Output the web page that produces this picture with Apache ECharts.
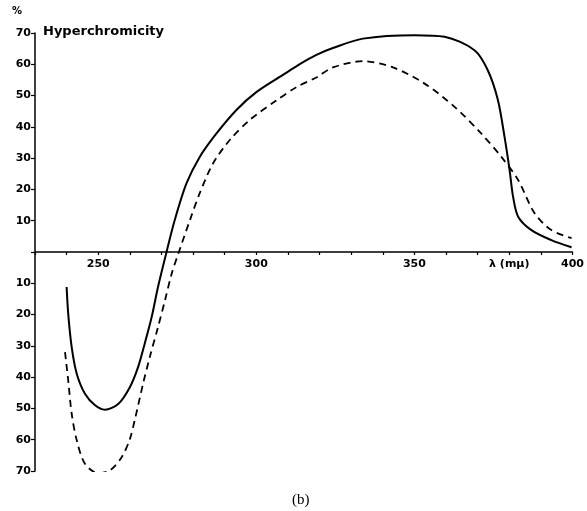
<!DOCTYPE html>
<html>
<head>
<meta charset="utf-8">
<script src="https://cdn.jsdelivr.net/npm/echarts@6/dist/echarts.min.js"></script>
<style>html,body{margin:0;padding:0;background:#fff}#c{width:587px;height:511px}</style>
</head>
<body>
<div id="c"></div>
<script>
// wavelength (mμ) and hyperchromicity (%)
const solidX = [240,240.5,241.6,243.2,245.8,249,252.1,256.3,260,262.6,264.7,266.9,268.9,271.6,274.2,277.9,282.1,287.4,293.7,300,308.4,314,319,324.2,333.7,350,359.5,369,373.2,376.4,378.5,380.1,381.2,382.8,387,393.3,399.7];
const solidY = [-11.2,-19.7,-30.4,-38.9,-45.3,-49,-50.4,-48.6,-43.2,-36.8,-29.3,-20.8,-11.2,0,10.2,21.9,30.4,37.9,45.4,51.1,56.6,60.2,63,65.2,68.2,69.3,68.8,64.5,58.1,48.6,36.8,26.2,17.7,11.3,7,3.8,1.5];
const dashX = [239.5,240.5,241.6,243.2,245.8,250,253.7,257.4,260,261.6,264.2,266.3,268.9,271.1,273.2,275.3,279,282.1,286.3,291.6,297.9,306.3,312.7,319,324.2,333.7,343.2,353.1,362.7,371.1,377.5,382.8,388,393.3,399.7];
const dashY = [-32,-41,-51.7,-60.2,-67.7,-70.7,-69.8,-65.6,-59.8,-53.5,-42,-33.6,-24,-15.5,-7,-0.6,10.2,18.8,28.3,35.8,42.2,48.4,52.7,55.8,59,61,59,53.9,46.4,37.9,30.4,23,12.4,7,4.4];
const xLabels = {250:'250',300:'300',350:'350',380:'λ (mμ)',400:'400'};
const yTicks = [-70,-60,-50,-40,-30,-20,-10,0,10,20,30,40,50,60,70];

const gridTop = 33, gridBottom = 40, H = 511;
const plotH = H - gridTop - gridBottom;
const zeroOffset = -plotH * (0 - yTicks[0]) / (yTicks[yTicks.length-1] - yTicks[0]);

const chart = echarts.init(document.getElementById('c'));
const font = 'DejaVu Sans';
chart.setOption({
  animation:false,
  grid:{left:35,right:14,top:gridTop,bottom:gridBottom},
  xAxis:{type:'value',min:230,max:400,interval:10,position:'bottom',offset:zeroOffset,
    axisLine:{onZero:false,lineStyle:{color:'#000',width:1.5}},
    axisTick:{show:true,length:3,lineStyle:{color:'#000',width:1.2}},
    splitLine:{show:false},
    axisLabel:{interval:0,hideOverlap:false,margin:7,color:'#000',fontFamily:font,fontWeight:'bold',fontSize:11,
      formatter:v=>xLabels[v]||''}},
  yAxis:{type:'value',min:yTicks[0],max:yTicks[yTicks.length-1],interval:10,
    axisLine:{show:true,onZero:false,lineStyle:{color:'#000',width:1.5}},
    axisTick:{show:true,length:4,lineStyle:{color:'#000',width:1.2}},
    splitLine:{show:false},
    axisLabel:{margin:4,color:'#000',fontFamily:font,fontWeight:'bold',fontSize:11,
      formatter:v=>v===0?'':String(Math.abs(v))}},
  series:[
    {type:'line',data:solidX.map((x,i)=>[x,solidY[i]]),smooth:0.3,symbol:'none',
      lineStyle:{color:'#000',width:2}},
    {type:'line',data:dashX.map((x,i)=>[x,dashY[i]]),smooth:0.3,symbol:'none',
      lineStyle:{color:'#000',width:1.8,type:[7,5]}}
  ],
  graphic:[
    {type:'text',left:12,top:6,style:{text:'%',font:'bold 10px "DejaVu Sans"',fill:'#000'}},
    {type:'text',left:43,top:25,style:{text:'Hyperchromicity',font:'bold 13px "DejaVu Sans"',fill:'#000'}},
    {type:'text',left:292,top:493,style:{text:'(b)',font:'15px "Liberation Serif"',fill:'#000'}}
  ]
});
</script>
</body>
</html>
